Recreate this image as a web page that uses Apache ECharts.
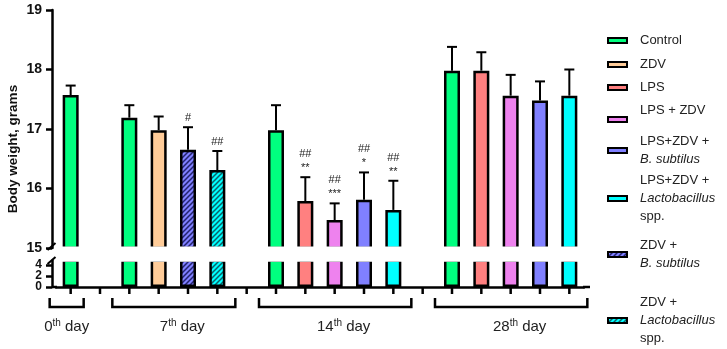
<!DOCTYPE html>
<html lang="en" style="height: 100%">
  <head>
    <meta charset="utf-8">
    <title>Body weight, grams</title>
  </head>
  <body style="height: 100%; margin: 0; background: #fff">
    <div id="container" style="width: 727px; height: 349px;"></div>
    <script type="text/javascript" src="https://cdn.jsdelivr.net/npm/echarts@6/dist/echarts.min.js"></script>
    <script type="text/javascript">
      // groups (series) shown in the legend
      var seriesNames = ['Control', 'ZDV', 'LPS', 'LPS + ZDV', 'LPS+ZDV + B. subtilus',
        'LPS+ZDV + Lactobacillus spp.', 'ZDV + B. subtilus', 'ZDV + Lactobacillus spp.'];
      var seriesColors = ['#00ff7f', '#ffcc99', '#ff8080', '#ee82ee', '#8080ff', '#00ffff', '#8080ff', '#00ffff'];

      // days on the x axis and which groups were measured
      var dayNames = ['0', '7', '14', '28'];
      var day0Groups = ['Control'];
      var day7Groups = ['Control', 'ZDV', 'ZDV + B. subtilus', 'ZDV + Lactobacillus spp.'];
      var day14Groups = ['Control', 'LPS', 'LPS + ZDV', 'LPS+ZDV + B. subtilus', 'LPS+ZDV + Lactobacillus spp.'];
      var day28Groups = ['Control', 'LPS', 'LPS + ZDV', 'LPS+ZDV + B. subtilus', 'LPS+ZDV + Lactobacillus spp.'];

      // mean body weight (g) and SD
      var day0Mean = [17.57];
      var day0Sd = [0.16];
      var day7Mean = [17.19, 16.98, 16.65, 16.31];
      var day7Sd = [0.21, 0.23, 0.38, 0.32];
      var day14Mean = [16.98, 15.79, 15.47, 15.81, 15.64];
      var day14Sd = [0.42, 0.40, 0.28, 0.46, 0.49];
      var day28Mean = [17.98, 17.98, 17.56, 17.48, 17.56];
      var day28Sd = [0.40, 0.31, 0.35, 0.32, 0.44];

      // significance marks above error bars
      var day0Marks = [''];
      var day7Marks = ['', '', '#', '##'];
      var day14Marks = ['', '##\n**', '##\n***', '##\n*', '##\n**'];
      var day28Marks = ['', '', '', '', ''];

      var upperTicks = [15, 16, 17, 18, 19];
      var lowerTicks = [0, 2, 4];

      var FONT = 'Liberation Sans, Arial, sans-serif';

      var days = [
        {groups: day0Groups, mean: day0Mean, sd: day0Sd, marks: day0Marks},
        {groups: day7Groups, mean: day7Mean, sd: day7Sd, marks: day7Marks},
        {groups: day14Groups, mean: day14Mean, sd: day14Sd, marks: day14Marks},
        {groups: day28Groups, mean: day28Mean, sd: day28Sd, marks: day28Marks}
      ];

      // one category slot per bar, one empty slot between days
      var slots = [];
      var bars = [];
      var dayRange = [];
      days.forEach(function (d, di) {
        if (di > 0) slots.push('gap' + di);
        var first = slots.length;
        d.groups.forEach(function (g, k) {
          bars.push({slot: slots.length, name: g, mean: d.mean[k], sd: d.sd[k], mark: d.marks[k]});
          slots.push(dayNames[di] + ' ' + g);
        });
        dayRange.push([first, slots.length - 1]);
      });

      function hatch(bg, fg) {
        var c = document.createElement('canvas');
        c.width = 5; c.height = 5;
        var g = c.getContext('2d');
        g.fillStyle = bg;
        g.fillRect(0, 0, 5, 5);
        g.strokeStyle = fg;
        g.lineWidth = 1.5;
        g.beginPath();
        g.moveTo(-1, 6); g.lineTo(6, -1);
        g.moveTo(-1, 1); g.lineTo(1, -1);
        g.moveTo(4, 6); g.lineTo(6, 4);
        g.stroke();
        return {image: c, repeat: 'repeat'};
      }
      var fills = seriesColors.slice();
      fills[6] = hatch('#8080ff', '#23236e');
      fills[7] = hatch('#00ffff', '#0d5f66');

      var dom = document.getElementById('container');
      var myChart = echarts.init(dom);

      var series = [];
      seriesNames.forEach(function (name, i) {
        var data = slots.map(function () { return null; });
        bars.forEach(function (b) { if (b.name === name) data[b.slot] = b.mean; });
        [0, 1].forEach(function (gi) {
          series.push({
            name: name,
            type: 'bar',
            xAxisIndex: gi,
            yAxisIndex: gi,
            data: data,
            barWidth: 16,
            barGap: '-100%',
            silent: true,
            itemStyle: {color: fills[i], borderColor: '#000', borderWidth: 2.5}
          });
        });
      });

      // error bars + significance marks
      series.push({
        type: 'custom',
        name: 'sd',
        xAxisIndex: 0,
        yAxisIndex: 0,
        z: 5,
        silent: true,
        data: bars.map(function (b) { return [b.slot, b.mean, b.sd]; }),
        renderItem: function (params, api) {
          var base = api.coord([api.value(0), api.value(1)]);
          var top = api.coord([api.value(0), api.value(1) + api.value(2)]);
          var ls = {stroke: '#000', lineWidth: 2};
          return {
            type: 'group',
            children: [
              {type: 'line', shape: {x1: base[0], y1: base[1], x2: top[0], y2: top[1]}, style: ls},
              {type: 'line', shape: {x1: top[0] - 5, y1: top[1], x2: top[0] + 5, y2: top[1]}, style: ls},
              {type: 'text', x: top[0], y: top[1] - 2, style: {
                text: bars[params.dataIndex].mark, align: 'center', verticalAlign: 'bottom',
                fontSize: 11, fontFamily: FONT, fill: '#222', lineHeight: 14
              }}
            ]
          };
        }
      });

      var legendText = {
        'Control': '{n|Control}',
        'ZDV': '{n|ZDV}',
        'LPS': '{n|LPS}',
        'LPS + ZDV': '{n|LPS + ZDV}\n{n| }',
        'LPS+ZDV + B. subtilus': '{n|LPS+ZDV +}\n{i|B. subtilus}',
        'LPS+ZDV + Lactobacillus spp.': '{n|LPS+ZDV +}\n{i|Lactobacillus}\n{n|spp.}',
        'ZDV + B. subtilus': '{n|ZDV +}\n{i|B. subtilus}',
        'ZDV + Lactobacillus spp.': '{n|ZDV +}\n{i|Lactobacillus}\n{n|spp.}'
      };
      var legendCenter = [43, 67, 90, 122, 153, 201, 257, 323];
      var legends = seriesNames.map(function (name, i) {
        var lines = legendText[name].split('\n').length;
        return {
          data: [name],
          left: 607,
          top: legendCenter[i] - lines * 9,
          padding: 0,
          itemWidth: 19,
          itemHeight: 5,
          selectedMode: false,
          icon: 'rect',
          itemStyle: {borderColor: '#000', borderWidth: 2},
          formatter: function (n) { return legendText[n]; },
          textStyle: {
            padding: [0, 0, 0, 8],
            rich: {
              n: {fontSize: 13, lineHeight: 18, fontFamily: FONT, color: '#222'},
              i: {fontSize: 13, lineHeight: 18, fontFamily: FONT, color: '#222', fontStyle: 'italic'}
            }
          }
        };
      });

      var blackLine = {color: '#000', width: 2.5};
      var option = {
        animation: false,
        grid: [
          {left: 56, right: 143, top: 10, height: 238},
          {left: 56, right: 143, top: 260.5, bottom: 62}
        ],
        legend: legends,
        xAxis: [
          {type: 'category', gridIndex: 0, data: slots, show: false},
          {type: 'category', gridIndex: 1, data: slots,
            axisLine: {show: true, lineStyle: blackLine},
            axisTick: {show: false},
            axisLabel: {show: false}}
        ],
        yAxis: [
          {type: 'value', gridIndex: 0, min: upperTicks[0], max: upperTicks[upperTicks.length - 1], interval: 1,
            offset: 4, splitLine: {show: false},
            axisLine: {show: true, lineStyle: blackLine},
            axisTick: {show: true, length: 6, lineStyle: blackLine},
            axisLabel: {margin: 10, fontSize: 14, fontWeight: 'bold', fontFamily: FONT, color: '#111'}},
          {type: 'value', gridIndex: 1, min: 0, max: 4.82,
            offset: 4, splitLine: {show: false},
            axisLine: {show: true, lineStyle: blackLine},
            axisTick: {show: true, length: 6, customValues: lowerTicks, lineStyle: blackLine},
            axisLabel: {show: false}}
        ],
        series: series
      };

      if (option && typeof option === 'object') {
        myChart.setOption(option);
      }

      // broken-axis decoration, axis name, ticks, brackets and day labels
      var graphics = [
        {type: 'rect', z: 50, shape: {x: 54, y: 246.6, width: 546, height: 15.2}, style: {fill: '#fff'}},
        {type: 'line', z: 60, shape: {x1: 47.5, y1: 250, x2: 55.5, y2: 243}, style: {stroke: '#000', lineWidth: 2}},
        {type: 'line', z: 60, shape: {x1: 47.5, y1: 264, x2: 55.5, y2: 257}, style: {stroke: '#000', lineWidth: 2}},
        {type: 'line', z: 60, shape: {x1: 52, y1: 287, x2: 57, y2: 287}, style: {stroke: '#000', lineWidth: 2.5}},
        {type: 'line', z: 60, shape: {x1: 583, y1: 287, x2: 590, y2: 287}, style: {stroke: '#000', lineWidth: 2.5}},
        {type: 'text', x: 13, y: 149, rotation: Math.PI / 2, style: {
          text: 'Body weight, grams', font: 'bold 13.5px ' + FONT, align: 'center', verticalAlign: 'middle', fill: '#111'}}
      ];
      var axisY = myChart.convertToPixel({yAxisIndex: 1}, 0);
      slots.forEach(function (s, i) {
        var x = myChart.convertToPixel({xAxisIndex: 1}, i);
        graphics.push({type: 'line', z: 100, shape: {x1: x, y1: axisY, x2: x, y2: axisY + 7},
          style: {stroke: '#000', lineWidth: 2.5}});
      });
      lowerTicks.forEach(function (v) {
        var y = myChart.convertToPixel({yAxisIndex: 1}, v);
        graphics.push({type: 'text', x: 42, y: y, style: {
          text: String(v), font: 'bold 12px ' + FONT, align: 'right', verticalAlign: 'middle', fill: '#111'}});
      });
      dayRange.forEach(function (r, di) {
        var x1 = myChart.convertToPixel({xAxisIndex: 1}, r[0]);
        var x2 = myChart.convertToPixel({xAxisIndex: 1}, r[1]);
        var a = di === 0 ? x1 - 21 : x1 - 17;
        var b = di === 0 ? x2 + 13 : x2 + 18;
        graphics.push({type: 'polyline', shape: {points: [[a, 298], [a, 307], [b, 307], [b, 298]]},
          style: {stroke: '#000', lineWidth: 2.5, fill: null}});
        var cx = di === 0 ? (a + b) / 2 : (x1 + x2) / 2 + 9;
        graphics.push({type: 'text', x: cx, y: 327, style: {
          text: '{n|' + dayNames[di] + '}{s|th}{n| day}', align: 'center', verticalAlign: 'middle',
          rich: {
            n: {fontSize: 15, lineHeight: 18, fontFamily: FONT, fill: '#222'},
            s: {fontSize: 10, lineHeight: 10, fontFamily: FONT, fill: '#222', verticalAlign: 'top'}
          }
        }});
      });
      myChart.setOption({graphic: graphics});
    </script>
  </body>
</html>
